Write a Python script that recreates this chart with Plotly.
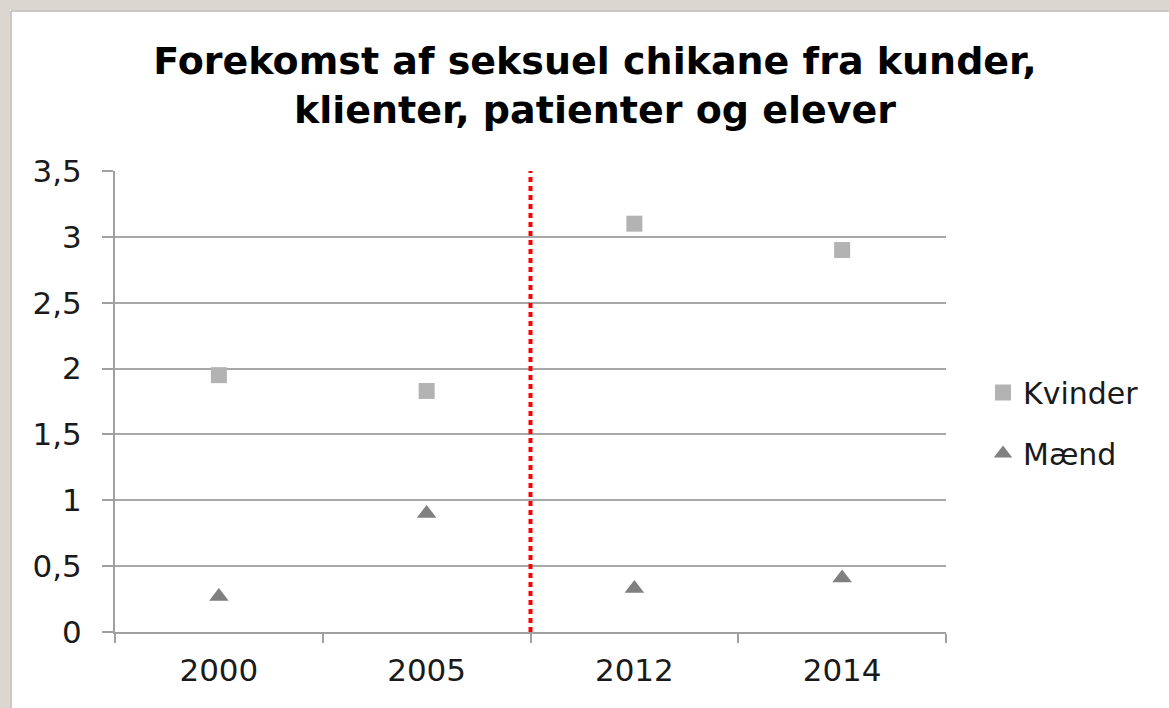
import plotly.graph_objects as go

years = ["2000", "2005", "2012", "2014"]
kvinder = [1.95, 1.83, 3.10, 2.90]
maend = [0.27, 0.90, 0.33, 0.41]
y_ticks = [0, 0.5, 1, 1.5, 2, 2.5, 3, 3.5]
title_text = "Forekomst af seksuel chikane fra kunder,<br>klienter, patienter og elever"

W, H = 1169, 708
L, R, T, B = 115, 223, 171, 76
pw, ph = W - L - R, H - T - B

def px_x(p):
    return (p - L) / pw

def px_y(p):
    return (H - B - p) / ph

fig = go.Figure()
fig.add_trace(go.Scatter(
    x=years, y=kvinder, mode="markers", name="Kvinder",
    marker=dict(symbol="square", size=16, color="#b3b3b3"),
    legendgroup="a",
))
fig.add_trace(go.Scatter(
    x=years, y=maend, mode="markers", name="Mænd",
    marker=dict(symbol="triangle-up", size=17, color="#808080"),
    legendgroup="b",
))

# separator line between 2005 and 2012
fig.add_shape(type="line", xref="x", yref="y", x0=1.5, x1=1.5, y0=0, y1=3.5,
              line=dict(color="#ff0000", width=4, dash="5px,4px"), layer="above")

# outer frame (beige strips top / left)
frame = "#dcd6d0"
fig.add_shape(type="rect", xref="paper", yref="paper", x0=px_x(-5), x1=px_x(W + 5), y0=px_y(10), y1=px_y(-5),
              line=dict(width=0), fillcolor=frame, layer="below")
fig.add_shape(type="rect", xref="paper", yref="paper", x0=px_x(-5), x1=px_x(10), y0=px_y(H + 5), y1=px_y(-5),
              line=dict(width=0), fillcolor=frame, layer="below")
fig.add_shape(type="line", xref="paper", yref="paper", x0=px_x(11), x1=px_x(W + 5), y0=px_y(11), y1=px_y(11),
              line=dict(color="#b8b4b0", width=1.5), layer="below")
fig.add_shape(type="line", xref="paper", yref="paper", x0=px_x(11), x1=px_x(11), y0=px_y(H + 5), y1=px_y(11),
              line=dict(color="#b8b4b0", width=1.5), layer="below")

fig.update_layout(
    width=W, height=H,
    margin=dict(l=L, r=R, t=T, b=B),
    paper_bgcolor="white", plot_bgcolor="white",
    separators=", ",
    font=dict(family="DejaVu Sans", color="#1a1a1a"),
    title=dict(text=title_text, x=595 / W, xanchor="center", y=1 - 74 / H, yanchor="middle",
               font=dict(family="DejaVu Sans", size=38, color="#000000", weight="bold")),
    showlegend=True,
    legend=dict(x=px_x(983), xanchor="left", y=px_y(423), yanchor="middle",
                font=dict(size=30, color="#1a1a1a"), traceorder="grouped", tracegroupgap=19,
                bgcolor="rgba(0,0,0,0)", itemwidth=30),
    xaxis=dict(type="category", range=[-0.5, 3.5], showgrid=False, showline=True,
               linecolor="#a0a0a0", linewidth=2, ticks="outside", tickson="boundaries",
               ticklen=9, tickwidth=2, tickcolor="#a0a0a0",
               tickfont=dict(size=31, color="#1a1a1a"), zeroline=False, ticklabelstandoff=10),
    yaxis=dict(range=[0, 3.5], tickvals=y_ticks, showgrid=True, gridcolor="#a8a8a8", gridwidth=2,
               showline=True, linecolor="#a0a0a0", linewidth=2, ticks="outside", ticklen=11,
               tickwidth=2, tickcolor="#a0a0a0", tickfont=dict(size=31, color="#1a1a1a"),
               zeroline=False, ticklabelstandoff=14),
)

fig.write_html("out.html", config={"displayModeBar": False},
               post_script="document.body.style.margin='0';")
